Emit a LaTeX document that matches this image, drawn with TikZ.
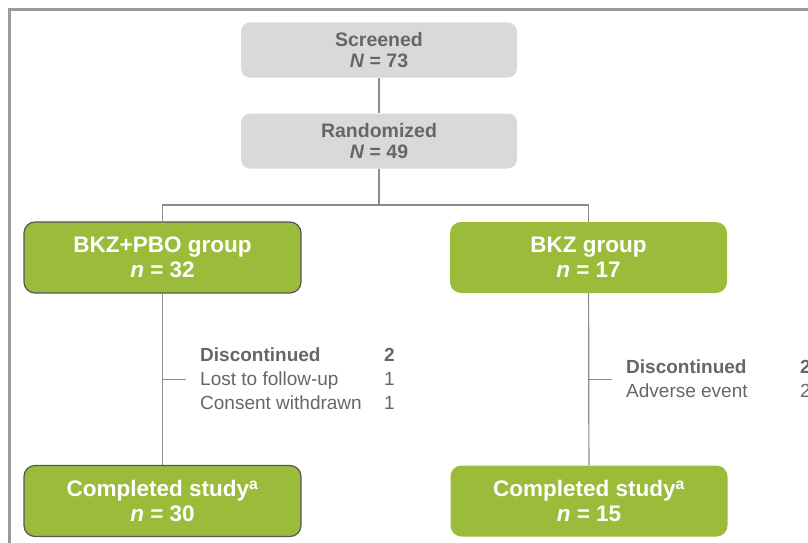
\documentclass[tikz,border=0pt]{standalone}
\usepackage{fontspec}
\setmainfont{Liberation Sans}
\usepackage{xcolor}
\usepackage{tikz}
\usetikzlibrary{positioning,calc}
\definecolor{boxgray}{HTML}{D9D9D9}
\definecolor{boxgreen}{HTML}{9BBB3B}
\definecolor{textgray}{HTML}{666666}
\definecolor{linegray}{HTML}{8C8C8C}
\definecolor{framegray}{HTML}{9A9A9A}
\definecolor{edgedark}{HTML}{555555}

\begin{document}
\begin{tikzpicture}[x=1pt,y=-1pt,
  graybox/.style={fill=boxgray,rounded corners=9pt,minimum width=276pt,minimum height=55pt,align=center,text=textgray,font=\fontsize{19.5}{21}\selectfont\bfseries},
  greenbox/.style={fill=boxgreen,rounded corners=11pt,minimum width=277pt,minimum height=71pt,align=center,text=white,font=\fontsize{22.5}{25}\selectfont\bfseries},
  edged/.style={draw=edgedark,line width=1.2pt},
  link/.style={draw=linegray,line width=1.2pt},
  reasons/.style={anchor=west,inner xsep=14pt,inner ysep=0pt,text=textgray,font=\fontsize{19}{24}\selectfont}]
\clip (0,0) rectangle (808,543);
\draw[framegray,line width=3pt] (9.5,9.5) rectangle (900,700);
% screening and randomization
\node[graybox] (scr) at (379,50) {Screened\\\textit{N} = 73};
\node[graybox] (rand) at (379,141) {Randomized\\\textit{N} = 49};
% study arms
\node[greenbox,edged] (pbo) at (162.5,257.5) {BKZ+PBO group\\\textit{n} = 32};
\node[greenbox] (bkz) at (588.5,257.5) {BKZ group\\\textit{n} = 17};
\node[greenbox,edged] (donepbo) at (162.5,501) {Completed study\textsuperscript{a}\\\textit{n} = 30};
\node[greenbox] (donebkz) at (589,501) {Completed study\textsuperscript{a}\\\textit{n} = 15};
% connectors
\coordinate (split) at (379,205);
\draw[link] (scr) -- (rand);
\draw[link] (rand) -- (split) -| (pbo);
\draw[link] (split) -| (bkz);
\draw[link] (pbo) -- coordinate (mid1) (donepbo);
\draw[link] (bkz) -- coordinate (mid2) (donebkz);
% discontinuations
\node[reasons] (disc1) at (186,381) {\begin{tabular}{@{}p{184pt}@{}l@{}}
\textbf{Discontinued} & \textbf{2}\\
Lost to follow-up & 1\\
Consent withdrawn & 1
\end{tabular}};
\node[reasons] (disc2) at (612,381) {\begin{tabular}{@{}p{174pt}@{}l@{}}
\textbf{Discontinued} & \textbf{2}\\
Adverse event & 2
\end{tabular}};
\draw[link] (mid1) -- (mid1 -| disc1.west);
\draw[link] (mid2) -- (mid2 -| disc2.west);
\end{tikzpicture}
\end{document}
